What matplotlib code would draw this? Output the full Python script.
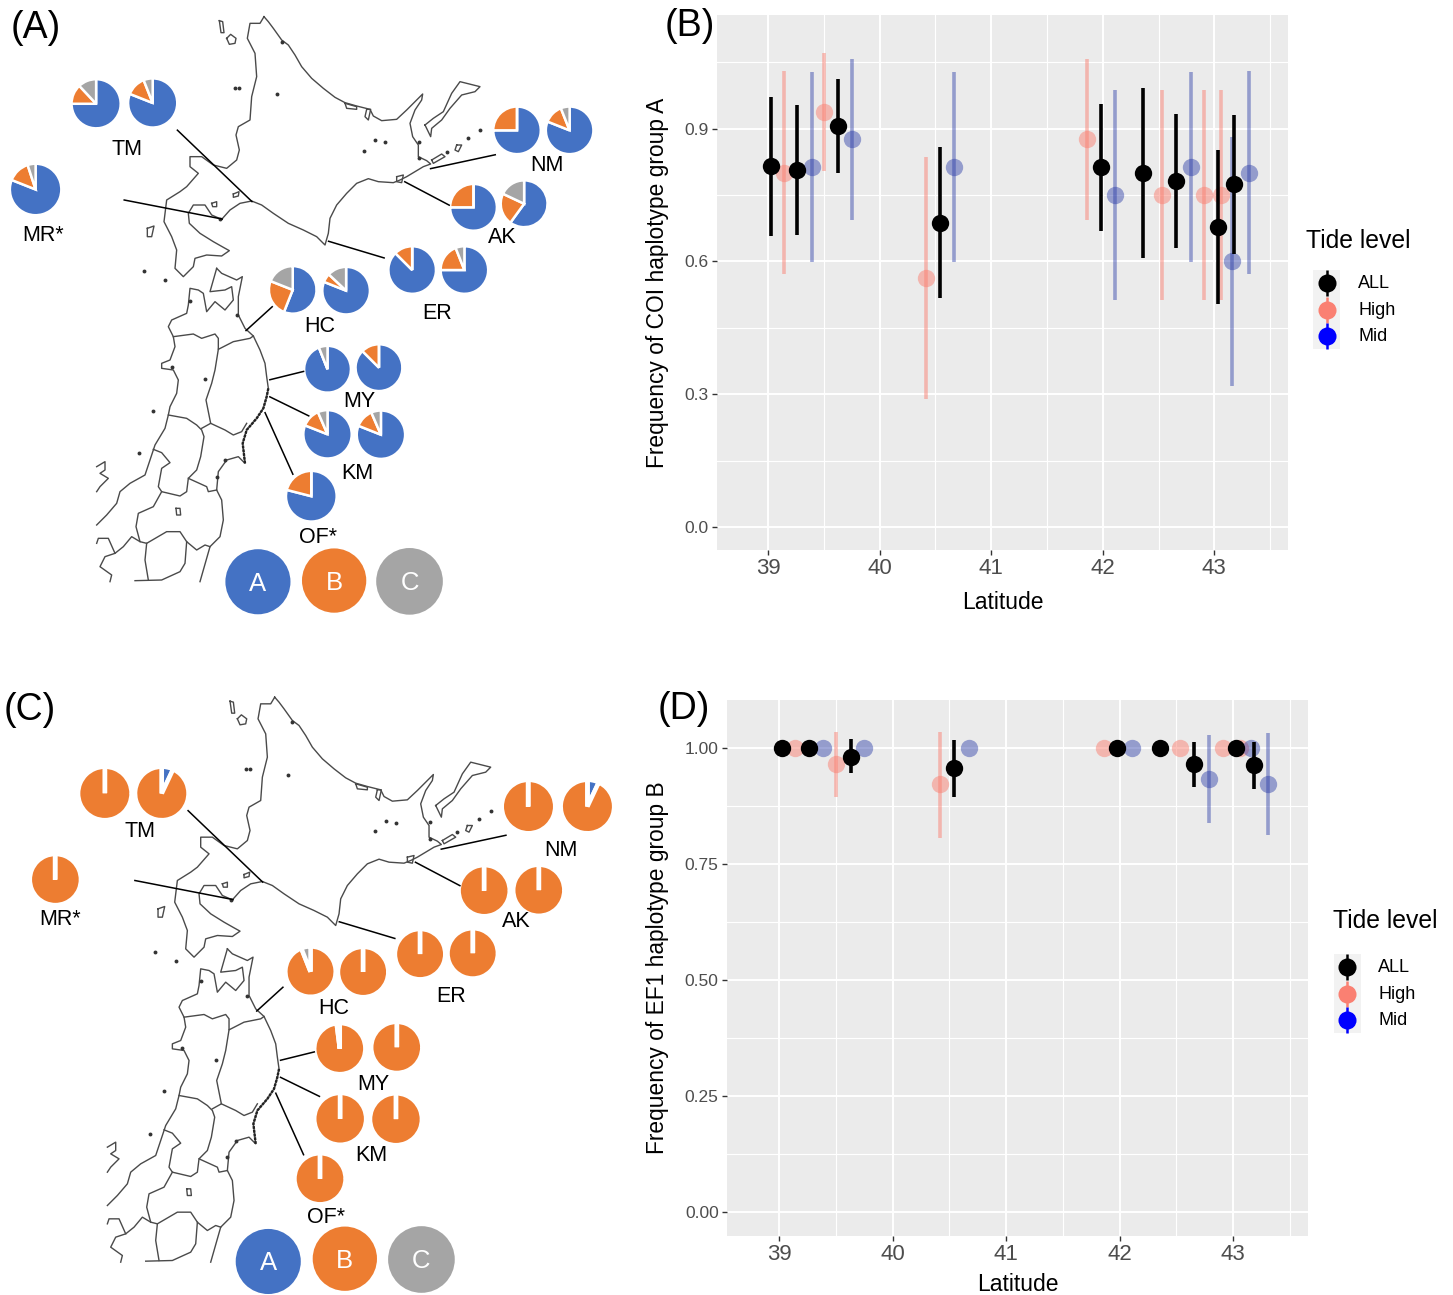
import matplotlib
matplotlib.use("Agg")
import matplotlib.pyplot as plt
from matplotlib.patches import Circle, Rectangle

plt.rcParams['font.family'] = ['Liberation Sans', 'DejaVu Sans']
W, H = 1453, 1295
BLUE, ORANGE, GRAY = '#4472C4', '#ED7D31', '#A5A5A5'

# ---- data: haplotype shares (A, B, C) per pie
coi_names = ['TM', 'TM', 'MR', 'NM', 'NM', 'AK', 'AK', 'ER', 'ER', 'HC', 'HC', 'MY', 'MY', 'KM', 'KM', 'OF']
coi_a = [.75, .81, .81, .75, .81, .75, .60, .875, .75, .56, .81, .94, .875, .81, .81, .79]
coi_b = [.13, .13, .14, .25, .13, .25, .22, .125, .19, .25, .06, .00, .125, .125, .125, .21]
coi_c = [.12, .06, .05, .00, .06, .00, .18, .00, .06, .19, .13, .06, .00, .065, .065, .00]
ef1_a = [.00, .07, .00, .00, .07, .00, .00, .00, .00, .00, .00, .00, .00, .00, .00, .00]
ef1_b = [1.0, .93, 1.0, 1.0, .93, 1.0, 1.0, 1.0, 1.0, .94, 1.0, .98, 1.0, 1.0, 1.0, 1.0]
ef1_c = [.00, .00, .00, .00, .00, .00, .00, .00, .00, .06, .00, .02, .00, .00, .00, .00]

# ---- data: frequency vs latitude
lat_all = [39.03, 39.26, 39.63, 40.54, 41.98, 42.36, 42.66, 43.03, 43.18]
lat_high = [39.14, 39.50, 40.42, 41.86, 42.53, 42.91, 43.06]
lat_mid = [39.39, 39.75, 40.67, 42.11, 42.79, 43.16, 43.31]

coi_all = [.816, .807, .907, .688, .813, .800, .782, .678, .775]
coi_all_lo = [.658, .660, .800, .518, .670, .608, .630, .504, .617]
coi_all_hi = [.972, .953, 1.013, .858, .956, .992, .934, .852, .931]
coi_high = [.800, .938, .563, .876, .750, .750, .750]
coi_high_lo = [.572, .805, .290, .694, .512, .512, .512]
coi_high_hi = [1.030, 1.072, .836, 1.058, .988, .988, .988]
coi_mid = [.813, .877, .813, .750, .813, .601, .800]
coi_mid_lo = [.598, .694, .598, .512, .598, .319, .572]
coi_mid_hi = [1.028, 1.058, 1.028, .988, 1.028, .882, 1.030]

ef1_all = [1, 1, .981, .956, 1, 1, .965, 1, .963]
ef1_all_lo = [1, 1, .945, .895, 1, 1, .916, 1, .911]
ef1_all_hi = [1, 1, 1.018, 1.017, 1, 1, 1.013, 1, 1.013]
ef1_high = [1, .966, .922, 1, 1, 1, 1]
ef1_high_lo = [1, .895, .806, 1, 1, 1, 1]
ef1_high_hi = [1, 1.035, 1.034, 1, 1, 1, 1]
ef1_mid = [1, 1, 1, 1, .932, 1, .923]
ef1_mid_lo = [1, 1, 1, 1, .838, 1, .813]
ef1_mid_hi = [1, 1, 1, 1, 1.028, 1, 1.032]

# ---- layout (pixels at zoom scale 2.52, panel A / panel C)
pie_xyr_a = [(243,264,60),(386,262,60),(90,480,63),(1307,331,58),(1440,331,58),(1197,525,57),(1325,516,57),
             (1042,683,58),(1174,683,58),(740,733,58),(875,735,58),(828,933,57),(958,929,57),(828,1097,59),(963,1098,59),(787,1253,62)]
pie_xyr_c = [(265,306,63),(409,306,63),(140,523,60),(1336,339,63),(1485,339,63),(1224,551,60),(1362,550,60),
             (1062,711,59),(1195,709,59),(785,755,59),(918,756,59),(859,949,60),(1003,946,60),(860,1126,61),(1001,1127,61),(809,1277,60)]
site_a = [('TM',320,373),('MR*',108,591),('NM',1382,415),('AK',1270,595),('ER',1105,788),('HC',808,819),('MY',908,1010),('KM',903,1190),('OF*',803,1352)]
site_c = [('TM',355,403),('MR*',152,624),('NM',1418,449),('AK',1304,628),('ER',1141,818),('HC',843,849),('MY',943,1039),('KM',938,1218),('OF*',825,1374)]
lead_lines = [((447,328),(635,508)),((313,504),(560,552)),((1248,390),(1085,425)),((1132,517),(1020,458)),
              ((968,650),(828,608)),((686,773),(620,833)),((765,936),(680,957)),((778,1048),(680,1000)),((738,1195),(668,1040))]
key_a = [('A',650,1466,82,BLUE),('B',842,1463,81,ORANGE),('C',1032,1465,84,GRAY)]
key_c = [('A',676,1488,82,BLUE),('B',869,1481,81,ORANGE),('C',1062,1483,84,GRAY)]

# ---- map outline, north part (crop pixels: x = 140 + u/3, y = 10 + v/3)
north_lines = [
 [(372,20),(385,35),(400,55),(425,90),(445,105),(465,135),(485,170),(515,205),(550,235),(585,262),(615,278),(650,288),(690,298),(700,318),(725,332),(770,328),(800,300),(830,270),(848,252),(845,270),(825,300),(810,340),(818,380),(835,405),(835,440),(860,452),(872,462),(850,470),(825,485),(800,500),(780,510),(760,518),(715,515),(685,506),(650,520),(620,550),(590,585),(570,625),(565,670),(555,705),(530,680),(490,660),(445,640),(400,610),(365,585),(335,573),(300,580),(270,600),(245,628),(215,615),(195,585),(160,585),(145,610),(148,640),(180,670),(220,695),(250,712),(268,722),(245,738),(200,735),(165,745),(160,770),(130,800),(105,775),(110,720),(95,680),(72,635),(80,570),(120,545),(140,530),(175,490),(150,470),(150,440),(185,440),(220,465),(260,475),(290,450),(298,420),(288,375),(295,350),(330,330),(335,260),(350,200),(345,130),(322,85),(330,40),(360,40),(372,20)],
 [(855,345),(880,325),(910,305),(935,250),(960,215),(1020,230),(1005,245),(965,255),(930,295),(905,330),(875,355),(872,380),(855,345)],
 [(875,450),(905,432),(915,440),(880,460),(875,450)],
 [(950,405),(965,405),(955,425),(945,420),(950,405)],
 [(260,85),(272,73),(288,85),(285,100),(268,103),(260,85)],
 [(238,32),(248,35),(252,68),(243,68),(238,32)],
 [(22,655),(42,648),(35,680),(22,680),(22,655)],
 [(280,552),(297,545),(295,558),(280,562),(280,552)],
 [(215,580),(230,575),(230,590),(218,590),(215,580)],
 [(615,280),(650,290),(650,298),(620,295),(615,280)],
 [(680,298),(692,298),(685,330),(675,320),(680,298)],
 [(770,500),(790,495),(785,518),(770,515),(770,500)],
]
north_dots = [(425,95),(285,234),(298,234),(412,253),(705,390),(735,397),(673,422),(838,395),(838,445),(985,385),(1020,360),(240,628),(920,425)]
# ---- map outline, south part (crop pixels: x = 90 + u/3, y = 260 + v/3)
south_lines = [
 [(380,25),(395,40),(440,60),(457,50),(445,110),(445,165),(465,205),(490,228),(510,270),(525,310),(530,350),(535,385),(530,410),(520,445),(500,475),(470,510),(458,550),(465,610),(445,590),(410,600),(385,635),(380,690),(395,720),(400,780),(390,830),(360,860),(340,930),(330,965)],
 [(380,25),(360,95),(405,90),(425,80),(430,120),(405,150),(375,125),(350,155),(340,100),(325,90),(300,85),(295,135),(290,160),(245,180),(235,200),(250,230),(255,260),(240,300),(215,310),(215,325),(250,330),(265,360),(260,400),(240,440),(235,465),(225,505),(195,555),(180,600),(165,645),(120,670),(90,695),(80,730),(50,765),(20,795)],
 [(250,230),(310,222),(335,235),(375,222),(385,235),(385,268),(430,245),(480,235),(490,228)],
 [(385,268),(375,330),(365,370),(348,420),(362,490),(335,505)],
 [(362,490),(405,510),(430,525),(455,515),(470,490)],
 [(235,465),(290,475),(320,495),(335,510),(342,530),(332,590),(320,630),(295,655),(350,680),(355,695),(380,690)],
 [(190,568),(215,578),(240,608),(215,625),(205,680),(215,695),(270,708),(290,695),(295,655)],
 [(215,695),(190,740),(145,760),(138,800),(150,845),(170,850),(230,815),(270,815),(290,845),(320,870),(345,855),(360,860)],
 [(170,850),(165,900),(175,960)],
 [(290,845),(285,910),(270,935),(215,960),(135,962)],
 [(150,845),(125,830),(100,860),(75,880),(55,835),(25,835),(20,850)],
 [(75,880),(45,890),(30,920),(65,945),(60,965)],
 [(20,620),(45,605),(45,630),(30,640),(55,655),(30,680),(20,695)],
 [(258,745),(270,745),(272,765),(260,765),(258,745)],
]
south_rias = [(535,385),(530,410),(520,445),(500,475),(470,510),(458,550),(465,610)]
south_dots = [(163,33),(225,60),(190,452),(147,580),(300,122),(440,165),(245,322),(345,358),(405,600),(380,650)]

SC = 2.52
SCX = 2.528
fig = plt.figure(figsize=(W/100, H/100), dpi=100)

def box(l, t, r, b):
    return [l/W, 1-b/H, (r-l)/W, (b-t)/H]

def panel(rect, xlim, ylim, yticks, yminor, yfmt, ylab, all_, high, mid, lab_y, title_xy, key_x, text_x, key_ys):
    ax = fig.add_axes(box(*rect))
    ax.set_facecolor('#EBEBEB')
    for s in ax.spines.values():
        s.set_visible(False)
    ax.set_xlim(*xlim); ax.set_ylim(*ylim)
    ax.set_xticks([39, 40, 41, 42, 43])
    ax.set_xticks([39.5, 40.5, 41.5, 42.5, 43.5], minor=True)
    ax.set_yticks(yticks); ax.set_yticks(yminor, minor=True)
    ax.set_yticklabels([yfmt % v for v in yticks])
    ax.grid(which='major', color='white', lw=1.4); ax.grid(which='minor', color='white', lw=0.8)
    ax.set_axisbelow(True)
    ax.tick_params(which='minor', length=0)
    ax.tick_params(axis='x', which='major', labelsize=16, labelcolor='#4D4D4D', color='#333333', length=3.5, width=1, pad=2.5)
    ax.tick_params(axis='y', which='major', labelsize=12.5, labelcolor='#4D4D4D', color='#333333', length=3.5, width=1, pad=2.5)
    ax.set_ylabel(ylab, fontsize=16.4)
    ax.set_xlabel('Latitude', fontsize=16.5)
    ax.yaxis.set_label_coords((669-rect[0])/(rect[2]-rect[0]), 0.5)
    ax.xaxis.set_label_coords(0.5, -(lab_y-rect[3])/(rect[3]-rect[1]))
    for (x, y, lo, hi), col, a, z in ((high, '#FA8072', .5, 3), (mid, '#2A3CA8', .45, 3), (all_, 'black', 1, 4)):
        ax.vlines(x, lo, hi, color=col, alpha=a, lw=2.6, zorder=z)
        ax.plot(x, y, 'o', color=col, alpha=a, ms=12.5, mew=0, zorder=z, ls='none')
    # legend
    page.text(title_xy[0], H-title_xy[1], 'Tide level', fontsize=17.8, va='center', ha='left')
    page.add_patch(Rectangle((key_x-13.5, H-(key_ys[0]-13.5+79.5)), 27, 79.5, fc='#F2F2F2', ec='none', zorder=1))
    for cy, (nm, c) in zip(key_ys, (('ALL', 'black'), ('High', '#FA8072'), ('Mid', '#0000FF'))):
        page.plot([key_x]*2, [H-cy-13, H-cy+13], color=c, lw=1.8, zorder=2, solid_capstyle='butt')
        page.plot([key_x], [H-cy], 'o', color=c, ms=13, mew=0, zorder=3)
        page.text(text_x, H-cy-0.5, nm, fontsize=13, va='center', ha='left')
    return ax

page = fig.add_axes([0, 0, 1, 1], zorder=5)
page.patch.set_alpha(0)

def P(x, y, dx, dy):
    return x/SC + dx, H - (y/SC + dy)

def Q(x, y, dy):
    return x/SCX, H - (y/SC + dy)

def draw_map(dx, dy, lw):
    def xy(pts, ox, oy):
        return [ox + u/3 + dx for u, v in pts], [H - (oy + v/3 + dy) for u, v in pts]
    for ln in north_lines:
        page.plot(*xy(ln, 140, 10), color='#4A4A4A', lw=lw, zorder=1, solid_joinstyle='round')
    for ln in south_lines:
        page.plot(*xy(ln, 90, 260), color='#4A4A4A', lw=lw, zorder=1, solid_joinstyle='round')
    page.plot(*xy(south_rias, 90, 260), color='#222222', lw=1.7, ls=(0, (1.2, 0.4)), zorder=1)
    page.plot(*xy(north_dots, 140, 10), 'o', color='#333333', ms=2.8, mew=0, zorder=1, ls='none')
    page.plot(*xy(south_dots, 90, 260), 'o', color='#333333', ms=2.8, mew=0, zorder=1, ls='none')

def draw_pies(a, b, c, xyr, dy, lw):
    for v1, v2, v3, (x, y, r) in zip(a, b, c, xyr):
        cx, cy = Q(x, y, dy)
        page.pie([v1, v2, v3], colors=[BLUE, ORANGE, GRAY], startangle=90, counterclock=False, normalize=True,
                 center=(cx, cy), radius=0.98*r/SC + lw*0.69, wedgeprops=dict(edgecolor='white', linewidth=lw))
        if max(v1, v2, v3) >= 0.999:
            page.plot([cx, cx], [cy, cy+r/SC+2], color='white', lw=lw, zorder=6, solid_capstyle='butt')

def decorate(site, keys, sdy, kdy, ldx, ldy):
    for nm, x, y in site:
        px, py = Q(x, y, sdy)
        page.text(px, py, nm, fontsize=15.5, ha='center', va='center', zorder=7)
    for (p, q) in lead_lines:
        x0, y0 = P(*p, ldx, ldy); x1, y1 = P(*q, ldx, ldy)
        page.plot([x0, x1], [y0, y1], color='black', lw=1.1, zorder=3)
    for nm, x, y, r, col in keys:
        px, py = P(x, y, 0, kdy)
        page.add_patch(Circle((px, py), r/SC, fc=col, ec='none', zorder=5))
        page.text(px, py-2, nm, color='white', fontsize=18.5, ha='center', va='center', zorder=7)

draw_map(0, 0, 1.0)
draw_map(10.7, 680.5, 1.0)
draw_pies(coi_a, coi_b, coi_c, pie_xyr_a, -1, 1.8)
draw_pies(ef1_a, ef1_b, ef1_c, pie_xyr_c, 672, 3.2)
decorate(site_a, key_a, 1, 0, 0, 0)
decorate(site_c, key_c, 672, 671, 10.7, 680.5)

for tag, x, y in (('(A)', 11, 28), ('(B)', 665, 26), ('(C)', 4, 710), ('(D)', 658, 709)):
    page.text(x, H-y, tag, fontsize=27, ha='left', va='center', zorder=8)

page.set_aspect('equal')

panel((717, 15, 1288, 550), (38.543, 43.66), (-0.052, 1.157), [0, .3, .6, .9], [.15, .45, .75, 1.05], '%.1f',
      'Frequency of COI haplotype group A',
      (lat_all, coi_all, coi_all_lo, coi_all_hi), (lat_high, coi_high, coi_high_lo, coi_high_hi), (lat_mid, coi_mid, coi_mid_lo, coi_mid_hi),
      591, (1306, 241), 1326.5, 1358, (283, 310, 336))
panel((727, 700, 1308, 1236), (38.542, 43.66), (-0.052, 1.103), [0, .25, .5, .75, 1], [.125, .375, .625, .875], '%.2f',
      'Frequency of EF1 haplotype group B',
      (lat_all, ef1_all, ef1_all_lo, ef1_all_hi), (lat_high, ef1_high, ef1_high_lo, ef1_high_hi), (lat_mid, ef1_mid, ef1_mid_lo, ef1_mid_hi),
      1273, (1333, 921), 1347, 1378, (967, 994, 1020))
page.set_xlim(0, W); page.set_ylim(0, H)
page.set_xticks([]); page.set_yticks([]); page.set_frame_on(False)
fig.savefig('out.png', dpi=100, facecolor='white')
